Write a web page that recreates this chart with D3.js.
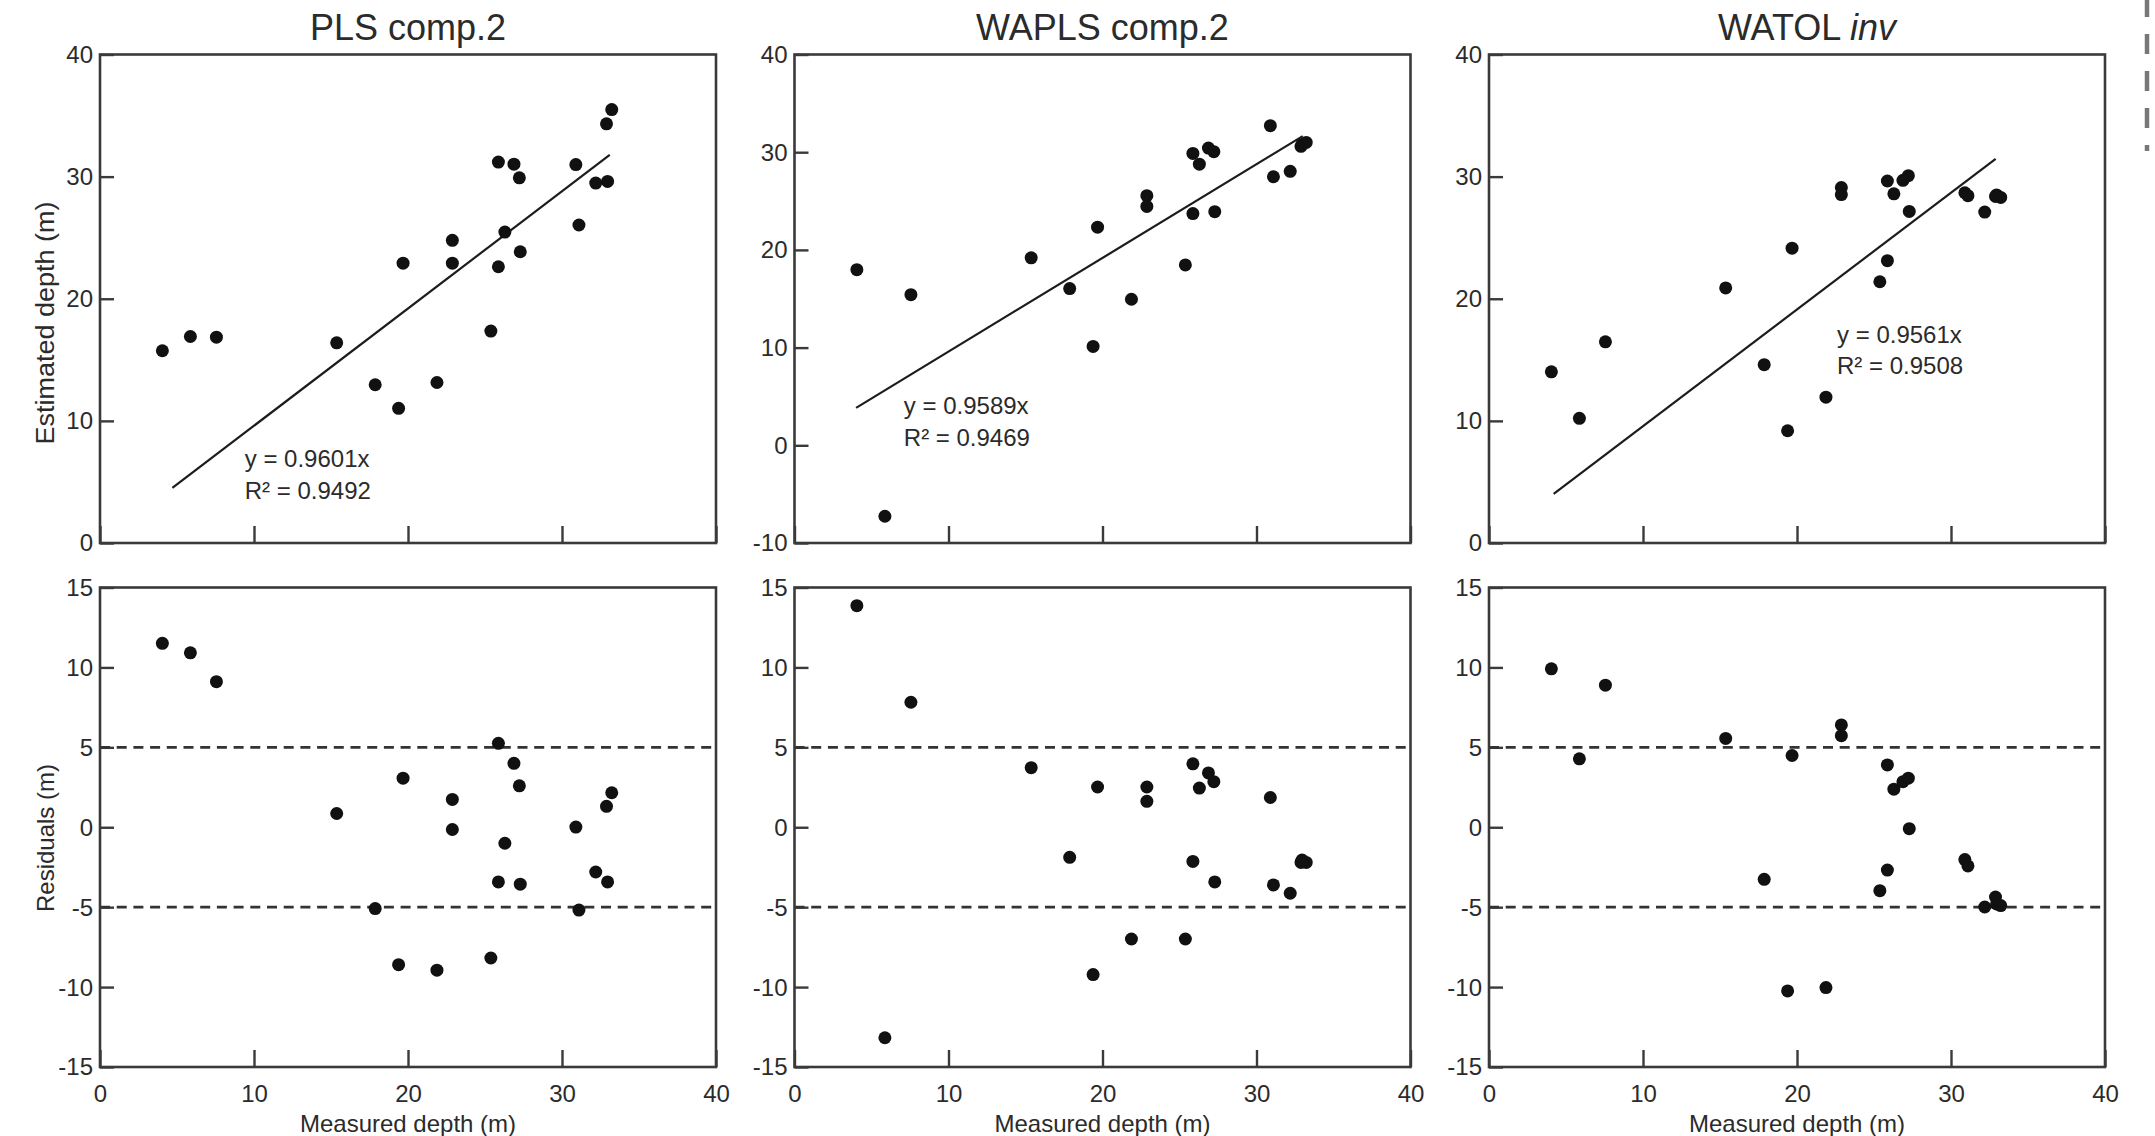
<!DOCTYPE html>
<html>
<head>
<meta charset="utf-8">
<script src="https://cdn.jsdelivr.net/npm/d3@7"></script>
<style>
  html, body { margin: 0; padding: 0; background: #fff; }
  svg { display: block; }
  text { font-family: "Liberation Sans", Arial, Helvetica, sans-serif; fill: #2b2b2b; }
</style>
</head>
<body>
<svg id="chart" width="2155" height="1136"></svg>
<script>
// Measured depth of each calibration sample (m), shared by all three models
const measuredDepth = [4.05, 5.87, 7.56, 15.37, 17.87, 19.39, 19.68, 21.88, 22.88, 22.88, 25.38,
  25.87, 25.87, 26.29, 26.88, 27.23, 27.29, 30.9, 31.1, 32.19, 32.89, 32.96, 33.23];

const methodNames = ["PLS comp.2", "WAPLS comp.2", "WATOL inv"];

// Estimated depth (m) per model
const estimatedPLS = [15.74, 16.91, 16.85, 16.39, 12.96, 11.03, 22.91, 13.14, 24.78, 22.91, 17.35,
  31.19, 22.62, 25.46, 31.02, 29.90, 23.85, 30.99, 26.04, 29.47, 34.32, 29.61, 35.49];
const estimatedWAPLS = [17.98, -7.26, 15.42, 19.19, 16.04, 10.12, 22.33, 14.95, 25.55, 24.45, 18.46,
  29.87, 23.72, 28.77, 30.42, 30.05, 23.91, 32.72, 27.49, 28.04, 30.6, 30.8, 31.0];
const estimatedWATOL = [14.02, 10.21, 16.47, 20.89, 14.60, 9.19, 24.14, 11.94, 29.11, 28.53, 21.39,
  29.64, 23.12, 28.59, 29.70, 30.08, 27.15, 28.68, 28.44, 27.10, 28.38, 28.5, 28.30];

// Residuals (m) per model
const residualsPLS = [11.51, 10.91, 9.11, 0.86, -5.09, -8.60, 3.07, -8.94, 1.74, -0.14, -8.18,
  5.25, -3.42, -1.00, 4.00, 2.59, -3.56, 0.01, -5.18, -2.80, 1.31, -3.42, 2.16];
const residualsWAPLS = [13.86, -13.17, 7.82, 3.73, -1.88, -9.22, 2.52, -6.99, 2.52, 1.62, -6.99,
  3.97, -2.14, 2.45, 3.40, 2.85, -3.42, 1.86, -3.61, -4.13, -2.20, -2.05, -2.20];
const residualsWATOL = [9.91, 4.28, 8.89, 5.56, -3.26, -10.24, 4.49, -10.03, 6.40, 5.73, -3.97,
  3.90, -2.68, 2.38, 2.85, 3.07, -0.09, -2.02, -2.42, -4.99, -4.37, -4.80, -4.90];

// Linear fits through the origin
const slopes = [0.9601, 0.9589, 0.9561];
const rSquared = [0.9492, 0.9469, 0.9508];
const fitFrom = [4.7, 4.0, 4.2];
const fitTo = [33.1, 33.0, 32.9];

// Axis ticks
const depthTicks = [0, 10, 20, 30, 40];
const estimateTicksStd = [0, 10, 20, 30, 40];
const estimateTicksWide = [-10, 0, 10, 20, 30, 40];
const residualTicks = [-15, -10, -5, 0, 5, 10, 15];
const residualBands = [-5, 5];

const estimated = [estimatedPLS, estimatedWAPLS, estimatedWATOL];
const residuals = [residualsPLS, residualsWAPLS, residualsWATOL];
const estimateDomains = [[0, 40], [-10, 40], [0, 40]];
const estimateTickSets = [estimateTicksStd, estimateTicksWide, estimateTicksStd];

// Layout
const colLeft = [100, 794.5, 1489];
const panelW = 616;
const topRow = { y0: 54.5, y1: 543 };
const botRow = { y0: 587.5, y1: 1067 };
// equation label anchor in data units (x, y of first baseline)
const labelAnchor = [[9.4, 6.2], [7.1, 3.2], [22.6, 16.4]];

const svg = d3.select("#chart");
const frameColor = "#3a3a3a";
const plainNumber = d => String(d);   // keeps the ASCII hyphen for negatives

function frame(g, w, h) {
  g.append("rect").attr("x", 0).attr("y", 0).attr("width", w).attr("height", h)
    .attr("fill", "none").attr("stroke", frameColor).attr("stroke-width", 2.6);
}

function styleAxis(g) {
  g.select(".domain").remove();
  g.selectAll(".tick line").attr("stroke", frameColor).attr("stroke-width", 2.4);
  g.selectAll(".tick text").attr("font-size", 24).attr("fill", "#2b2b2b")
    .style("font-family", '"Liberation Sans", Arial, sans-serif');
}

methodNames.forEach((name, i) => {
  const left = colLeft[i];
  const x = d3.scaleLinear().domain([0, 40]).range([0, panelW]);

  // ---- estimated vs measured ----
  const hTop = topRow.y1 - topRow.y0;
  const yTop = d3.scaleLinear().domain(estimateDomains[i]).range([hTop, 0]);
  const gTop = svg.append("g").attr("transform", `translate(${left},${topRow.y0})`);

  // title
  const title = svg.append("text")
    .attr("x", left + panelW / 2 + (i === 2 ? 10 : 0)).attr("y", 40)
    .attr("text-anchor", "middle").attr("font-size", 36);
  if (name.endsWith(" inv")) {
    title.append("tspan").text(name.replace(" inv", " "));
    title.append("tspan").attr("font-style", "italic").text("inv");
  } else {
    title.text(name);
  }

  gTop.append("g").call(d3.axisLeft(yTop).tickValues(estimateTickSets[i])
    .tickSize(-14).tickPadding(7).tickFormat(plainNumber))
    .call(styleAxis)
    .selectAll(".tick text").attr("dy", "0.33em");

  gTop.append("g").attr("transform", `translate(0,${hTop})`)
    .call(d3.axisBottom(x).tickValues(depthTicks).tickSize(-17).tickFormat(""))
    .call(styleAxis);

  frame(gTop, panelW, hTop);

  // fitted line
  const b = slopes[i];
  gTop.append("line")
    .attr("x1", x(fitFrom[i])).attr("y1", yTop(b * fitFrom[i]))
    .attr("x2", x(fitTo[i])).attr("y2", yTop(b * fitTo[i]))
    .attr("stroke", "#1c1c1c").attr("stroke-width", 2.2);

  gTop.selectAll("circle").data(measuredDepth).join("circle")
    .attr("cx", d => x(d))
    .attr("cy", (d, k) => yTop(estimated[i][k]))
    .attr("r", 6.5).attr("fill", "#111");

  const eq = gTop.append("text")
    .attr("x", x(labelAnchor[i][0])).attr("y", yTop(labelAnchor[i][1]))
    .attr("font-size", 24).attr("fill", "#333");
  eq.append("tspan").text(`y = ${b.toFixed(4)}x`);
  eq.append("tspan").attr("x", x(labelAnchor[i][0])).attr("dy", 31.5)
    .text(`R\u00B2 = ${rSquared[i].toFixed(4)}`);

  // ---- residuals ----
  const hBot = botRow.y1 - botRow.y0;
  const yBot = d3.scaleLinear().domain([-15, 15]).range([hBot, 0]);
  const gBot = svg.append("g").attr("transform", `translate(${left},${botRow.y0})`);

  gBot.append("g").call(d3.axisLeft(yBot).tickValues(residualTicks)
    .tickSize(-14).tickPadding(7).tickFormat(plainNumber))
    .call(styleAxis)
    .selectAll(".tick text").attr("dy", "0.33em");

  gBot.append("g").attr("transform", `translate(0,${hBot})`)
    .call(d3.axisBottom(x).tickValues(depthTicks).tickSize(-17).tickPadding(18)
      .tickFormat(plainNumber))
    .call(styleAxis);

  gBot.selectAll("line.band").data(residualBands).join("line")
    .attr("class", "band")
    .attr("x1", 0).attr("x2", panelW)
    .attr("y1", d => yBot(d)).attr("y2", d => yBot(d))
    .attr("stroke", "#333").attr("stroke-width", 2.8)
    .attr("stroke-dasharray", "10 6.7");

  frame(gBot, panelW, hBot);

  gBot.selectAll("circle").data(measuredDepth).join("circle")
    .attr("cx", d => x(d))
    .attr("cy", (d, k) => yBot(residuals[i][k]))
    .attr("r", 6.5).attr("fill", "#111");

  svg.append("text")
    .attr("x", left + panelW / 2).attr("y", 1132)
    .attr("text-anchor", "middle").attr("font-size", 24)
    .text("Measured depth (m)");
});

// y axis titles on the first column
svg.append("text")
  .attr("transform", "translate(53.5,323) rotate(-90)")
  .attr("text-anchor", "middle").attr("font-size", 25)
  .attr("textLength", 243).attr("lengthAdjust", "spacingAndGlyphs")
  .text("Estimated depth (m)");
svg.append("text")
  .attr("transform", "translate(53.5,838) rotate(-90)")
  .attr("text-anchor", "middle").attr("font-size", 24)
  .text("Residuals (m)");

// dashed rule at the right margin
svg.append("line")
  .attr("x1", 2147).attr("x2", 2147).attr("y1", 0).attr("y2", 151)
  .attr("stroke", "#777").attr("stroke-width", 4.5)
  .attr("stroke-dasharray", "20 17").attr("stroke-dashoffset", 3);
</script>
</body>
</html>
